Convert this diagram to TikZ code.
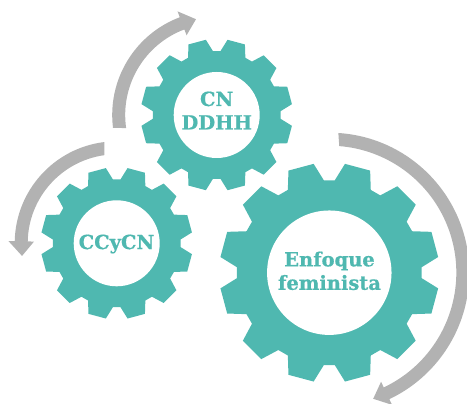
\documentclass[tikz,border=0pt]{standalone}
\usepackage{fontspec}
\setmainfont[BoldFeatures={FakeBold=0.6}]{DejaVu Serif}
\definecolor{gearteal}{HTML}{4FB8B0}
\definecolor{arcgray}{HTML}{B2B2B2}
\tikzset{
    gearlabel/.style={inner sep=0pt,align=center,text=gearteal,
        font=\bfseries\fontsize{14.6}{17.6}\selectfont},
}
% wheel with 12 teeth, radius 76 before scaling
\newcommand{\gearwheel}[3]{
    \fill [gearteal,shift={(#1,#2)},scale=#3] ({90-3.4}:64)
        \foreach \a in {90,120,...,420} {
            -- ({\a-3.4}:64) -- ({\a+3.4}:64) -- ({\a+8.2}:76) -- ({\a+21.8}:76)
        } -- cycle;
    \fill [white,shift={(#1,#2)},scale=#3] (0,0) circle [radius=43];
}
% #1,#2 centre, #3 radius, #4,#5 start outer and inner, #6 end of shaft, #7 tip angle
\newcommand{\arcarrow}[7]{
    \fill [arcgray,shift={(#1,#2)}] (#4:#3+6.5)
        arc [start angle=#4,end angle=#6,radius=#3+6.5]
        -- (#6:#3+12.8) -- (#7:#3) -- (#6:#3-12.8) -- (#6:#3-6.5)
        arc [start angle=#6,end angle=#5,radius=#3-6.5] -- cycle;
}
\begin{document}
\begin{tikzpicture}[x=0.75pt,y=0.75pt]
    \clip (0,0) rectangle (467,403);

    % Arrows
    \arcarrow{216.7}{288}{98}{187.1}{188.2}{110.7}{102.2}
    \arcarrow{116.7}{159.7}{95.5}{97}{98}{178.8}{187.6}
    \arcarrow{329.3}{130.3}{133.5}{86.3}{85.5}{-64.6}{-70.8}

    % Wheels
    \gearwheel{216.7}{288}{1}
    \gearwheel{116.7}{159.7}{1}
    \gearwheel{329.3}{130.3}{1.447}

    % Labels
    \node [gearlabel] (CN) at (216.7,292.5) {CN\\DDHH};
    \node [gearlabel] (CCyCN) at (116.5,159) {CCyCN};
    \node [gearlabel] (EF) at (329.5,132.2) {Enfoque\\feminista};
\end{tikzpicture}
\end{document}
